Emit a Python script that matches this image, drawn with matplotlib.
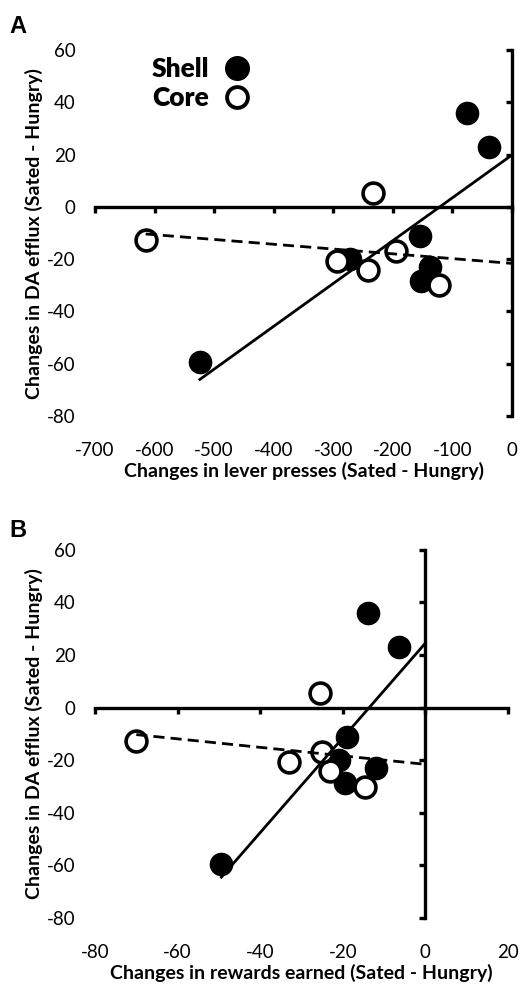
import numpy as np
import matplotlib.pyplot as plt
from matplotlib.lines import Line2D

plt.rcParams['font.family'] = ['Lato', 'DejaVu Sans']
plt.rcParams['axes.unicode_minus'] = False

# Shell animals (filled circles)
shell_da = [36, 23, -11, -20, -23, -28.5, -59.5]
shell_lever = [-76, -39, -155, -272, -138, -152, -524]
shell_rewards = [-14, -6.5, -19, -21, -12, -19.5, -49.4]

# Core animals (open circles)
core_da = [5.5, -12.5, -20.5, -24, -17, -30]
core_lever = [-233, -615, -293, -242, -195, -122]
core_rewards = [-25.5, -70, -33, -23, -25, -14.7]

y_ticks = [-80, -60, -40, -20, 0, 20, 40, 60]
lever_ticks = [-700, -600, -500, -400, -300, -200, -100, 0]
reward_ticks = [-80, -60, -40, -20, 0, 20]

ylabel = 'Changes in DA efflux (Sated - Hungry)'


def draw_panel(ax, x_shell, x_core, xticks, xlabel):
    ax.set_xlim(xticks[0], xticks[-1])
    ax.set_ylim(y_ticks[0], y_ticks[-1])

    # data
    ax.plot(x_shell, shell_da, 'o', color='black', ms=16, zorder=3, clip_on=False)
    ax.plot(x_core, core_da, 'o', mfc='white', mec='black', mew=2.6, ms=15,
            zorder=4, clip_on=False)

    # regression lines
    for x, y, ls in [(x_shell, shell_da, '-'), (x_core, core_da, (0, (4, 2.2)))]:
        p = np.polyfit(x, y, 1)
        xs = np.array([min(x), 0])
        ax.plot(xs, np.polyval(p, xs), color='black', lw=2, ls=ls, zorder=5)

    # axes crossing at zero
    for s in ['top', 'right']:
        ax.spines[s].set_visible(False)
    ax.spines['left'].set_position(('data', 0))
    ax.spines['bottom'].set_position(('data', 0))
    ax.spines['left'].set_linewidth(2.4)
    ax.spines['bottom'].set_linewidth(2.4)
    ax.set_xticks(xticks)
    ax.set_yticks(y_ticks)
    ax.tick_params(direction='out', length=4, width=2.4,
                   labelleft=False, labelbottom=False)

    # tick labels kept at the outer edges
    sx = ax.secondary_xaxis('bottom')
    sx.set_xticks(xticks)
    sx.spines['bottom'].set_visible(False)
    sx.tick_params(length=0, pad=19, labelsize=13.5)
    sx.set_xlabel(xlabel, fontsize=14, fontweight='bold', labelpad=2)

    sy = ax.secondary_yaxis('left')
    sy.set_yticks(y_ticks)
    sy.spines['left'].set_visible(False)
    sy.tick_params(length=0, pad=14, labelsize=13.5)
    sy.set_ylabel(ylabel, fontsize=14, fontweight='bold', labelpad=3)


fig = plt.figure(figsize=(5.26, 9.88), dpi=100)
ax_a = fig.add_axes([0.1806, 0.5789, 0.7928, 0.3704])
ax_b = fig.add_axes([0.1806, 0.0709, 0.7852, 0.3725])

draw_panel(ax_a, shell_lever, core_lever, lever_ticks,
           'Changes in lever presses (Sated - Hungry)')
draw_panel(ax_b, shell_rewards, core_rewards, reward_ticks,
           'Changes in rewards earned (Sated - Hungry)')

handles = [Line2D([], [], ls='', marker='o', color='black', ms=17),
           Line2D([], [], ls='', marker='o', mfc='white', mec='black', mew=2.8, ms=15)]
ax_a.legend(handles, ['Shell', 'Core'], markerfirst=False, frameon=False,
            loc='upper left', bbox_to_anchor=(0.11, 1.01), prop={'size': 19, 'weight': 'heavy'},
            handletextpad=0.55, labelspacing=0.2, handlelength=1.0, borderaxespad=0)

fig.text(0.018, 0.985, 'A', fontsize=17, fontweight='bold', va='top', family='Liberation Sans')
fig.text(0.018, 0.475, 'B', fontsize=17, fontweight='bold', va='top', family='Liberation Sans')

fig.savefig('out.png', dpi=100)
